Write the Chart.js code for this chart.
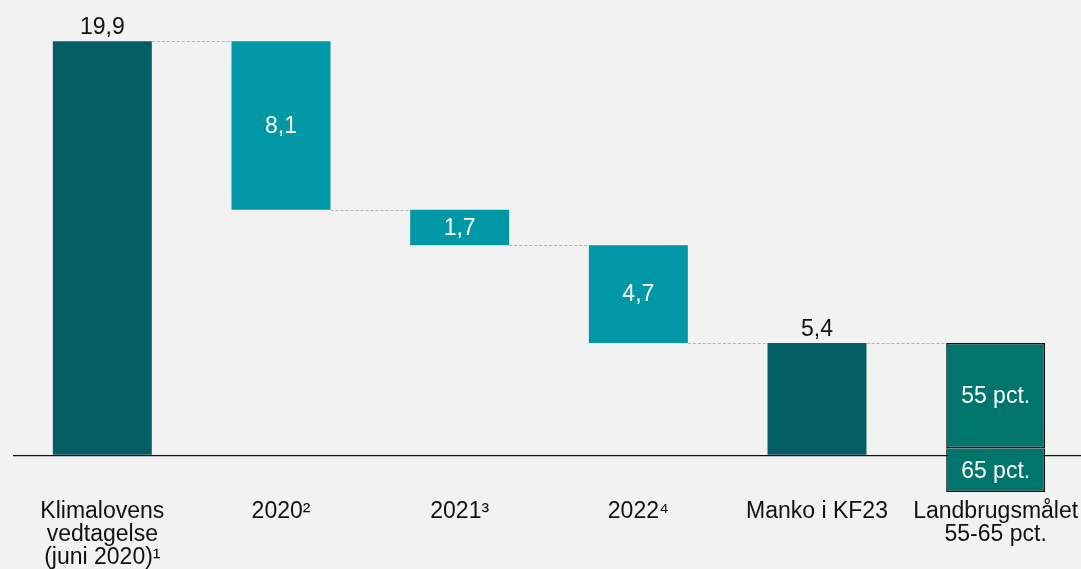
<!DOCTYPE html>
<html>
<head>
<meta charset="utf-8">
<script src="https://cdn.jsdelivr.net/npm/chart.js@4/dist/chart.umd.min.js"></script>
<style>
  html, body { margin: 0; padding: 0; background: #f2f2f2; overflow: hidden; }
  canvas { display: block; }
</style>
</head>
<body>
<canvas id="waterfall" width="1085" height="569"></canvas>
<script>
// data
var categories = [
    ["Klimalovens", "vedtagelse", "(juni 2020)\u00b9"],
    "2020\u00b2",
    "2021\u00b3",
    "2022\u2074",
    "Manko i KF23",
    ["Landbrugsm\u00e5let", "55-65 pct."]
];
var steps = [[0, 19.9], [11.8, 19.9], [10.1, 11.8], [5.4, 10.1], [0, 5.4], null];
var stepLabels = ["19,9", "8,1", "1,7", "4,7", "5,4"];
var labelAbove = [true, false, false, false, true];
var target55 = [null, null, null, null, null, [0.34, 5.4]];
var target65 = [null, null, null, null, null, [-1.76, 0.34]];
var targetLabels = ["55 pct.", "65 pct."];

var dark = "#055e63";
var light = "#0097a6";
var green = "#00756c";
var font = "'Liberation Sans', Arial, sans-serif";

var stepColors = [dark, light, light, light, dark, dark];

var waterfallExtras = {
    id: "waterfallExtras",
    afterDatasetsDraw: function(chart) {
        var ctx = chart.ctx;
        var y = chart.scales.y;
        var m0 = chart.getDatasetMeta(0);
        var m1 = chart.getDatasetMeta(1);
        var m2 = chart.getDatasetMeta(2);

        // dashed connectors
        var bars = m0.data.slice(0, 5).concat([m1.data[5]]);
        var tops = steps.slice(0, 5).concat([target55[5]]);
        ctx.save();
        ctx.strokeStyle = "#b3b3b3";
        ctx.lineWidth = 1;
        ctx.setLineDash([3, 2]);
        for (var i = 0; i < bars.length - 1; i++) {
            var a = bars[i], b = bars[i + 1];
            var lvl = Math.round(y.getPixelForValue(tops[i + 1][1])) + 0.5;
            ctx.beginPath();
            ctx.moveTo(a.x + a.width / 2, lvl);
            ctx.lineTo(b.x - b.width / 2, lvl);
            ctx.stroke();
        }
        ctx.restore();

        // value labels
        ctx.save();
        ctx.font = "23px " + font;
        ctx.textAlign = "center";
        m0.data.slice(0, 5).forEach(function(bar, i) {
            var top = y.getPixelForValue(steps[i][1]);
            var bot = y.getPixelForValue(steps[i][0]);
            if (labelAbove[i]) {
                ctx.fillStyle = "#111";
                ctx.textBaseline = "alphabetic";
                ctx.fillText(stepLabels[i], bar.x, top - 7);
            } else {
                ctx.fillStyle = "#fff";
                ctx.textBaseline = "middle";
                ctx.fillText(stepLabels[i], bar.x, (top + bot) / 2 + 1);
            }
        });
        ctx.fillStyle = "#fff";
        ctx.textBaseline = "middle";
        [[m1, target55], [m2, target65]].forEach(function(p, k) {
            var bar = p[0].data[5];
            var top = y.getPixelForValue(p[1][5][1]);
            var bot = y.getPixelForValue(p[1][5][0]);
            ctx.fillText(targetLabels[k], bar.x, (top + bot) / 2 + 1);
        });
        ctx.restore();
    }
};

new Chart(document.getElementById("waterfall"), {
    type: "bar",
    data: {
        labels: categories,
        datasets: [{
            data: steps,
            backgroundColor: stepColors,
            borderWidth: 0,
            grouped: false,
            barPercentage: 0.554,
            categoryPercentage: 1
        }, {
            data: target55,
            backgroundColor: green,
            borderColor: "#111",
            borderWidth: 1.5,
            borderSkipped: false,
            grouped: false,
            barPercentage: 0.554,
            categoryPercentage: 1
        }, {
            data: target65,
            backgroundColor: green,
            borderColor: "#111",
            borderWidth: { top: 0.5, left: 1.5, right: 1.5, bottom: 1.5 },
            borderSkipped: false,
            grouped: false,
            barPercentage: 0.554,
            categoryPercentage: 1
        }]
    },
    options: {
        responsive: false,
        animation: false,
        devicePixelRatio: 1,
        layout: { padding: { left: 13, top: 8, right: 0, bottom: 0 } },
        plugins: {
            legend: { display: false },
            tooltip: { enabled: false }
        },
        scales: {
            x: {
                grid: { display: false, drawTicks: false },
                border: { display: false },
                ticks: {
                    color: "#111",
                    font: { family: font, size: 23, lineHeight: 1.0 },
                    padding: 3,
                    maxRotation: 0,
                    autoSkip: false
                },
                afterFit: function(s) { s.height = 72; }
            },
            y: {
                min: -2,
                max: 21.5,
                ticks: { display: false },
                border: { display: false },
                grid: {
                    drawTicks: false,
                    lineWidth: 1.3,
                    color: function(c) { return c.tick && c.tick.value === 0 ? "#111" : "transparent"; }
                },
                afterBuildTicks: function(s) { s.ticks = [{ value: 0 }]; },
                afterFit: function(s) { s.width = 0; }
            }
        }
    },
    plugins: [waterfallExtras]
});
</script>
</body>
</html>
